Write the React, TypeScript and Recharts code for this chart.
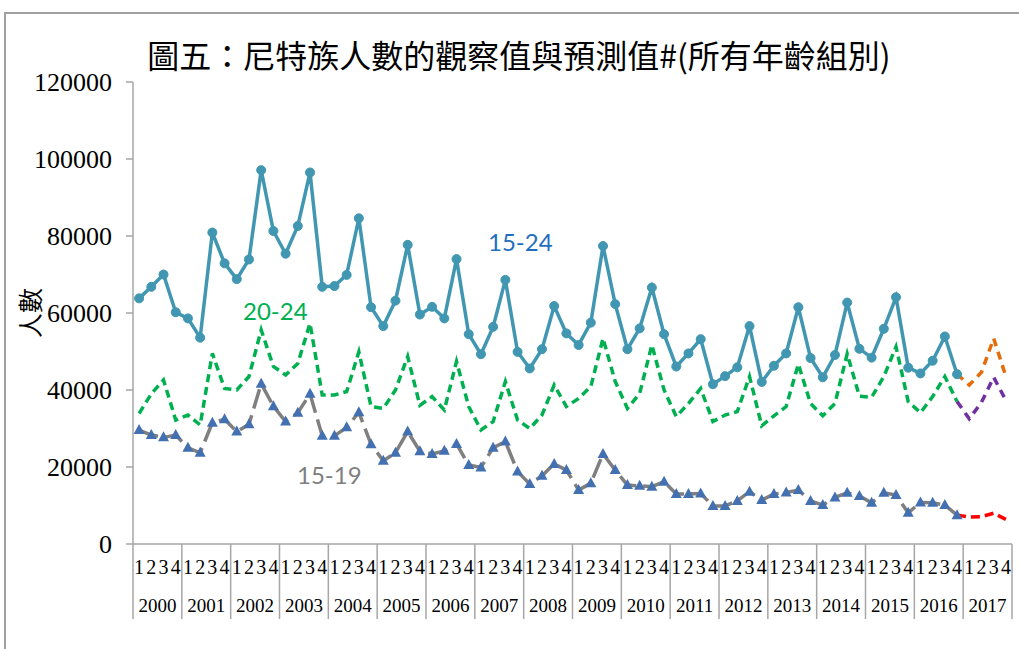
import React from "react";
import { LineChart, Line, XAxis, YAxis } from "recharts";

// 季別標籤與年份
const YEARS = ["2000", "2001", "2002", "2003", "2004", "2005", "2006", "2007", "2008", "2009", "2010", "2011", "2012", "2013", "2014", "2015", "2016", "2017"];
const QUARTER_LABELS = ["1", "2", "3", "4"];
const Y_TICKS = [0, 20000, 40000, 60000, 80000, 100000, 120000];

// 觀察值 2000Q1 - 2016Q4
const OBS_15_24 = [
  63800, 66800, 70000, 60200, 58600, 53600, 80900, 72900,
  68800, 73900, 97100, 81300, 75400, 82600, 96500, 66800,
  67000, 69900, 84600, 61500, 56600, 63200, 77700, 59600,
  61600, 58600, 74000, 54500, 49300, 56400, 68600, 49900,
  45600, 50600, 61800, 54700, 51700, 57500, 77400, 62300,
  50600, 56000, 66600, 54500, 46100, 49500, 53200, 41500,
  43600, 45900, 56600, 42100, 46300, 49500, 61500, 48300,
  43300, 49100, 62700, 50700, 48400, 55900, 64100, 45800,
  44300, 47600, 53900, 44100,
];
const OBS_20_24 = [
  33900, 39000, 42600, 32200, 33500, 30900, 49500, 40400,
  40000, 43500, 55600, 46100, 43900, 46900, 57300, 38700,
  38700, 39600, 49900, 35700, 35200, 40000, 48700, 36000,
  38300, 34800, 47400, 35700, 29600, 31800, 42200, 32200,
  30000, 33500, 41300, 35700, 37800, 40900, 53400, 42200,
  35200, 39100, 51700, 40000, 33100, 36500, 40400, 31800,
  33500, 34400, 43500, 30700, 33300, 35700, 46700, 36500,
  33300, 36500, 49400, 38400, 38100, 43500, 51200, 37000,
  34100, 38300, 43500, 37000,
];
const OBS_15_19 = [
  29600, 28300, 27700, 28300, 25000, 23700, 31500, 32400,
  29200, 31100, 41600, 35800, 31800, 34100, 39000, 28100,
  28100, 30300, 34200, 25900, 21600, 23700, 29200, 24100,
  23400, 24200, 26000, 20500, 19900, 25000, 26600, 18800,
  15600, 17700, 20800, 19200, 14000, 15800, 23400, 19200,
  15300, 15100, 14900, 16200, 13000, 13000, 13100, 9900,
  9900, 11200, 13600, 11400, 13000, 13400, 14000, 11200,
  10100, 12100, 13300, 12500, 10700, 13300, 12700, 8100,
  10800, 10700, 10100, 7500,
];

// 預測值 2016Q4 - 2017Q4
const FC_15_24 = [44100, 41300, 44600, 53400, 43500];
const FC_20_24 = [37000, 32500, 36800, 43300, 37300];
const FC_15_19 = [7500, 7000, 7100, 8000, 6400];

const OBS_LEN = OBS_15_24.length;
const FC_START = OBS_LEN - 1;
const TOTAL = YEARS.length * 4;

const rows = Array.from({ length: TOTAL }, (_, i) => ({
  i,
  a: i < OBS_LEN ? OBS_15_24[i] : null,
  b: i < OBS_LEN ? OBS_20_24[i] : null,
  c: i < OBS_LEN ? OBS_15_19[i] : null,
  fa: i >= FC_START ? FC_15_24[i - FC_START] : null,
  fb: i >= FC_START ? FC_20_24[i - FC_START] : null,
  fc: i >= FC_START ? FC_15_19[i - FC_START] : null,
}));

// x 軸刻度：年份分隔線、季別、年份中心
const xTicks: number[] = [];
for (let y = 0; y < YEARS.length; y++) {
  xTicks.push(y * 4 - 0.5, y * 4, y * 4 + 1, y * 4 + 1.5, y * 4 + 2, y * 4 + 3);
}
xTicks.push(TOTAL - 0.5);

const AXIS = "#A6A6A6";
const TEAL = "#4197B1";
const GREEN = "#00B050";
const GRAY = "#7F7F7F";
const TRI = "#4270B0";
const SERIF = "'Liberation Serif', 'Times New Roman', serif";
const CJK = "'Noto Sans CJK TC', 'Noto Sans CJK SC', sans-serif";

function XTick(props: any) {
  const { x, y, payload } = props;
  const v = payload.value as number;
  if ((v + 0.5) % 4 === 0) {
    return <line x1={x} y1={y} x2={x} y2={y + 75} stroke={AXIS} strokeWidth={1.5} />;
  }
  if (Number.isInteger(v)) {
    return (
      <text x={x} y={y + 30} textAnchor="middle" fontFamily={SERIF} fontSize={20} fill="#000">
        {QUARTER_LABELS[v % 4]}
      </text>
    );
  }
  return (
    <text x={x} y={y + 68} textAnchor="middle" fontFamily={SERIF} fontSize={19} fill="#000">
      {YEARS[(v - 1.5) / 4]}
    </text>
  );
}

function Triangle(props: any) {
  const { cx, cy, index } = props;
  if (cx == null || cy == null) return <g key={`t${index}`} />;
  return <path key={`t${index}`} d={`M${cx},${cy - 6} L${cx + 5.5},${cy + 4} L${cx - 5.5},${cy + 4} Z`} fill={TRI} />;
}

const labelBase: React.CSSProperties = { position: "absolute", fontFamily: "Lato, sans-serif", fontSize: 24, lineHeight: 1, whiteSpace: "nowrap" };

export default function App() {
  return (
    <div style={{ position: "fixed", left: 0, top: 0, width: 1019, height: 649, overflow: "hidden", background: "#fff" }}>
      <div style={{ position: "absolute", left: 0, top: 0 }}>
        <LineChart width={1019} height={649} data={rows} margin={{ top: 82, right: 7, left: 0, bottom: 0 }}>
          <XAxis
            dataKey="i"
            type="number"
            domain={[-0.5, TOTAL - 0.5]}
            ticks={xTicks}
            interval={0}
            tick={<XTick />}
            tickLine={false}
            tickSize={0}
            tickMargin={0}
            height={105}
            stroke={AXIS}
            strokeWidth={1.5}
          />
          <YAxis
            type="number"
            domain={[0, 120000]}
            ticks={Y_TICKS}
            interval={0}
            width={133}
            tickSize={7}
            tickMargin={14}
            stroke={AXIS}
            strokeWidth={1.5}
            tick={{ fill: "#000", fontFamily: SERIF, fontSize: 26 }}
          />
          <Line dataKey="b" stroke={GREEN} strokeWidth={3.5} strokeDasharray="8 5" dot={false} activeDot={false} isAnimationActive={false} />
          <Line dataKey="c" stroke={GRAY} strokeWidth={3.5} strokeDasharray="20 7" dot={Triangle} activeDot={false} isAnimationActive={false} />
          <Line dataKey="a" stroke={TEAL} strokeWidth={3.5} dot={{ r: 4.5, fill: TEAL, stroke: TEAL, strokeWidth: 1 }} activeDot={false} isAnimationActive={false} />
          <Line dataKey="fa" stroke="#E46C0A" strokeWidth={3.5} strokeDasharray="8 6" dot={false} activeDot={false} isAnimationActive={false} />
          <Line dataKey="fb" stroke="#7030A0" strokeWidth={3.5} strokeDasharray="8 6" dot={false} activeDot={false} isAnimationActive={false} />
          <Line dataKey="fc" stroke="#FF0000" strokeWidth={3.5} strokeDasharray="9 5" dot={false} activeDot={false} isAnimationActive={false} />
        </LineChart>
      </div>
      <div style={{ position: "absolute", left: 4, top: 12, width: 1015, height: 2, background: "#A0A0A0" }} />
      <div style={{ position: "absolute", left: 4, top: 12, width: 2, height: 637, background: "#A0A0A0" }} />
      <div style={{ position: "absolute", left: 0, width: 1038, top: 38, textAlign: "center", fontFamily: CJK, fontSize: 32, lineHeight: 1, color: "#000", whiteSpace: "nowrap" }}>
        圖五：尼特族人數的觀察值與預測值#(所有年齡組別)
      </div>
      <div style={{ position: "absolute", left: 29, top: 313, transform: "translate(-50%, -50%) rotate(-90deg)", fontFamily: CJK, fontSize: 25, lineHeight: 1, whiteSpace: "nowrap" }}>
        人數
      </div>
      <div style={{ ...labelBase, left: 488, top: 230, color: "#1F6FC0" }}>15-24</div>
      <div style={{ ...labelBase, left: 243, top: 299, color: GREEN }}>20-24</div>
      <div style={{ ...labelBase, left: 297, top: 463, color: GRAY }}>15-19</div>
    </div>
  );
}
